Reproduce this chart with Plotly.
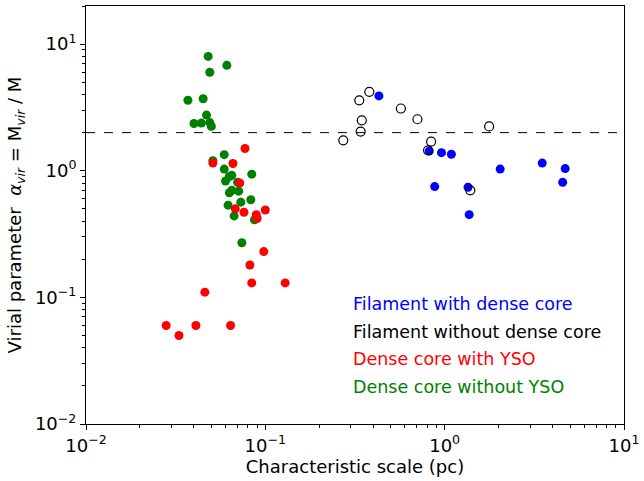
import plotly.graph_objects as go

# Filament with dense core (blue, filled)
fil_core_x = [0.43, 0.82, 0.96, 1.09, 2.04, 3.5, 4.7, 4.55, 0.88, 1.35, 1.37]
fil_core_y = [3.9, 1.43, 1.39, 1.35, 1.03, 1.15, 1.04, 0.81, 0.75, 0.74, 0.45]

# Filament without dense core (black, open)
fil_nocore_x = [0.38, 0.334, 0.57, 0.705, 0.345, 0.34, 0.272, 1.77, 0.84, 0.808, 1.39]
fil_nocore_y = [4.2, 3.6, 3.1, 2.55, 2.5, 2.04, 1.74, 2.24, 1.7, 1.45, 0.70]

# Dense core with YSO (red)
core_yso_x = [0.077, 0.051, 0.066, 0.072, 0.068, 0.076, 0.089, 0.090, 0.100, 0.098,
              0.082, 0.084, 0.129, 0.046, 0.028, 0.033, 0.041, 0.064]
core_yso_y = [1.5, 1.15, 1.14, 0.80, 0.50, 0.47, 0.45, 0.42, 0.49, 0.23,
              0.18, 0.13, 0.13, 0.11, 0.06, 0.05, 0.06, 0.06]

# Dense core without YSO (green)
core_noyso_x = [0.048, 0.061, 0.049, 0.037, 0.045, 0.047, 0.040, 0.044, 0.049, 0.050,
                0.051, 0.059, 0.059, 0.065, 0.063, 0.060, 0.084, 0.070, 0.065, 0.063,
                0.071, 0.062, 0.073, 0.083, 0.067, 0.087, 0.074]
core_noyso_y = [8.0, 6.8, 6.0, 3.6, 3.7, 2.75, 2.36, 2.38, 2.4, 2.24,
                1.2, 1.34, 1.03, 0.92, 0.90, 0.83, 0.94, 0.81, 0.70, 0.67,
                0.69, 0.535, 0.565, 0.59, 0.44, 0.41, 0.27]

threshold = 2.0

legend_labels = ["Filament with dense core", "Filament without dense core",
                 "Dense core with YSO", "Dense core without YSO"]
legend_colors = ["blue", "black", "red", "green"]

tick_vals = [0.01, 0.1, 1, 10]
tick_text = ["10<sup>−2</sup>", "10<sup>−1</sup>", "10<sup>0</sup>", "10<sup>1</sup>"]

FONT = "DejaVu Sans"

fig = go.Figure()

fig.add_trace(go.Scatter(x=core_noyso_x, y=core_noyso_y, mode="markers",
                         marker=dict(color="green", size=9, line=dict(width=0))))
fig.add_trace(go.Scatter(x=core_yso_x, y=core_yso_y, mode="markers",
                         marker=dict(color="red", size=9, line=dict(width=0))))
fig.add_trace(go.Scatter(x=fil_core_x, y=fil_core_y, mode="markers",
                         marker=dict(color="blue", size=9, line=dict(width=0))))
fig.add_trace(go.Scatter(x=fil_nocore_x, y=fil_nocore_y, mode="markers",
                         marker=dict(color="rgba(0,0,0,0)", size=9,
                                     line=dict(color="black", width=1.2))))

fig.add_shape(type="line", xref="paper", x0=0, x1=1, yref="y", y0=threshold, y1=threshold,
              line=dict(color="black", width=1, dash="dash"))

for i, (lab, col) in enumerate(zip(legend_labels, legend_colors)):
    fig.add_annotation(xref="paper", yref="paper", x=0.492, y=0.287 - i * 0.066,
                       text=lab, showarrow=False, xanchor="left", yanchor="middle",
                       font=dict(family=FONT, size=17.5, color=col))

minor_vals = [m * 10 ** e for e in range(-3, 2) for m in range(2, 10)]

axis_common = dict(
    type="log", tickvals=tick_vals, ticktext=tick_text,
    ticks="outside", ticklen=5, tickwidth=1, tickcolor="black",
    minor=dict(tickvals=minor_vals, ticks="outside", ticklen=3, tickcolor="black"),
    showline=True, linecolor="black", linewidth=1, mirror=True,
    showgrid=False, zeroline=False,
    tickfont=dict(family=FONT, size=18, color="black"),
)

fig.update_xaxes(range=[-2, 1], **axis_common,
                 title=dict(text="Characteristic scale (pc)", standoff=4,
                            font=dict(family=FONT, size=18, color="black")))
fig.update_yaxes(range=[-2, 1.301], **axis_common,
                 title=dict(text="Virial parameter  <i>α</i><sub><i>vir</i></sub> = M<sub><i>vir</i></sub> / M",
                            standoff=8,
                            font=dict(family=FONT, size=18, color="black")))

fig.update_layout(width=644, height=481, showlegend=False,
                  margin=dict(l=86, r=16, t=5, b=57),
                  plot_bgcolor="white", paper_bgcolor="white",
                  font=dict(family=FONT))

fig.write_html("out.html")
